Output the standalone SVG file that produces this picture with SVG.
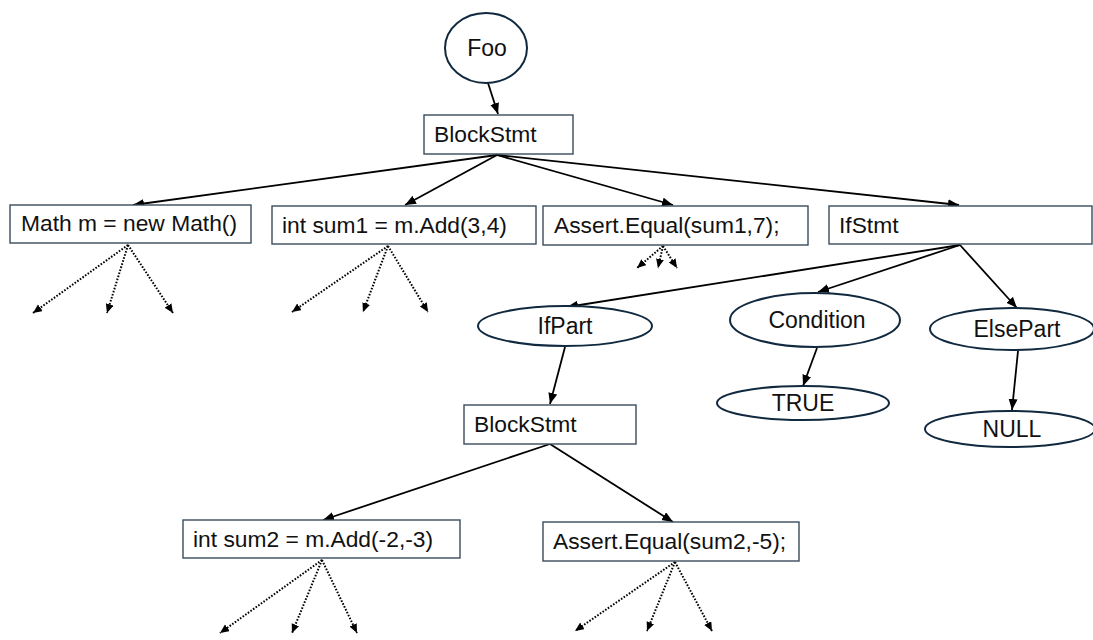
<svg xmlns="http://www.w3.org/2000/svg" width="1093" height="640" viewBox="0 0 1093 640">
<style>
.box{fill:#fff;stroke:#3a4b5c;stroke-width:1.4}
.ell{fill:#fff;stroke:#10293f;stroke-width:2}
.t{font-family:"Liberation Sans",Arial,sans-serif;font-size:22.8px;fill:#111}
.c{text-anchor:middle;font-size:23px}
.e{fill:none;stroke:#000;stroke-width:1.8;marker-end:url(#ah)}
.d{fill:none;stroke:#000;stroke-width:2;stroke-dasharray:1.6 1.6;marker-end:url(#ahs)}
</style>
<defs>
<marker id="ah" markerUnits="userSpaceOnUse" markerWidth="12" markerHeight="10" refX="11" refY="4.5" orient="auto">
<path d="M0,0 L11,4.5 L0,9 z" fill="#000"/>
</marker>
<marker id="ahs" markerUnits="userSpaceOnUse" markerWidth="10" markerHeight="9" refX="9" refY="4" orient="auto">
<path d="M0,0 L9,4 L0,8 z" fill="#000"/>
</marker>
</defs>
<rect width="1093" height="640" fill="#fff"/>
<g id="connectors">
<line class="e" x1="488" y1="83" x2="498" y2="114"/>
<line class="e" x1="497" y1="155" x2="133" y2="205"/>
<line class="e" x1="497" y1="155" x2="405" y2="205"/>
<line class="e" x1="497" y1="155" x2="673" y2="205"/>
<line class="e" x1="497" y1="155" x2="959" y2="205"/>
<line class="e" x1="960" y1="245" x2="567" y2="307"/>
<line class="e" x1="960" y1="245" x2="818" y2="292"/>
<line class="e" x1="960" y1="245" x2="1017" y2="308"/>
<line class="e" x1="817" y1="348" x2="803" y2="386"/>
<line class="e" x1="1018" y1="351" x2="1012" y2="410"/>
<line class="e" x1="565" y1="347" x2="550" y2="404"/>
<line class="e" x1="550" y1="444" x2="323" y2="520"/>
<line class="e" x1="550" y1="444" x2="673" y2="522"/>
<line class="d" x1="128" y1="245" x2="33" y2="313"/>
<line class="d" x1="128" y1="245" x2="107" y2="313"/>
<line class="d" x1="128" y1="245" x2="173" y2="313"/>
<line class="d" x1="388" y1="246" x2="292" y2="312"/>
<line class="d" x1="388" y1="246" x2="363" y2="312"/>
<line class="d" x1="388" y1="246" x2="428" y2="312"/>
<line class="d" x1="663" y1="246" x2="637" y2="268"/>
<line class="d" x1="663" y1="246" x2="658" y2="268"/>
<line class="d" x1="663" y1="246" x2="677" y2="268"/>
<line class="d" x1="322" y1="560" x2="220" y2="633"/>
<line class="d" x1="322" y1="560" x2="292" y2="633"/>
<line class="d" x1="322" y1="560" x2="357" y2="633"/>
<line class="d" x1="675" y1="562" x2="575" y2="631"/>
<line class="d" x1="675" y1="562" x2="647" y2="631"/>
<line class="d" x1="675" y1="562" x2="712" y2="631"/>
</g>
<g id="foo"><ellipse class="ell" cx="486" cy="48" rx="41" ry="35"/><text class="t c" x="487" y="56">Foo</text></g>
<g id="blockstmt1"><rect class="box" x="424" y="115" width="149" height="39"/><text class="t" x="434" y="142">BlockStmt</text></g>
<g id="math"><rect class="box" x="10" y="205" width="241" height="38"/><text class="t" x="21" y="231">Math m = new Math()</text></g>
<g id="sum1"><rect class="box" x="272" y="206" width="264" height="38"/><text class="t" x="282" y="233">int sum1 = m.Add(3,4)</text></g>
<g id="assert1"><rect class="box" x="543" y="206" width="265" height="39"/><text class="t" x="554" y="233">Assert.Equal(sum1,7);</text></g>
<g id="ifstmt"><rect class="box" x="829" y="206" width="263" height="38"/><text class="t" x="839" y="233">IfStmt</text></g>
<g id="ifpart"><ellipse class="ell" cx="565" cy="326" rx="87" ry="20"/><text class="t c" x="565" y="334">IfPart</text></g>
<g id="condition"><ellipse class="ell" cx="815" cy="320" rx="85" ry="27"/><text class="t c" x="817" y="328">Condition</text></g>
<g id="elsepart"><ellipse class="ell" cx="1012" cy="329" rx="82" ry="21"/><text class="t c" x="1017" y="337">ElsePart</text></g>
<g id="true"><ellipse class="ell" cx="803" cy="403" rx="86" ry="17"/><text class="t c" x="803" y="411">TRUE</text></g>
<g id="null"><ellipse class="ell" cx="1010" cy="429" rx="85" ry="18"/><text class="t c" x="1012" y="437">NULL</text></g>
<g id="blockstmt2"><rect class="box" x="464" y="405" width="172" height="39"/><text class="t" x="474" y="432">BlockStmt</text></g>
<g id="sum2"><rect class="box" x="183" y="520" width="277" height="38"/><text class="t" x="193" y="547">int sum2 = m.Add(-2,-3)</text></g>
<g id="assert2"><rect class="box" x="543" y="522" width="256" height="39"/><text class="t" x="553" y="549">Assert.Equal(sum2,-5);</text></g>
</svg>
